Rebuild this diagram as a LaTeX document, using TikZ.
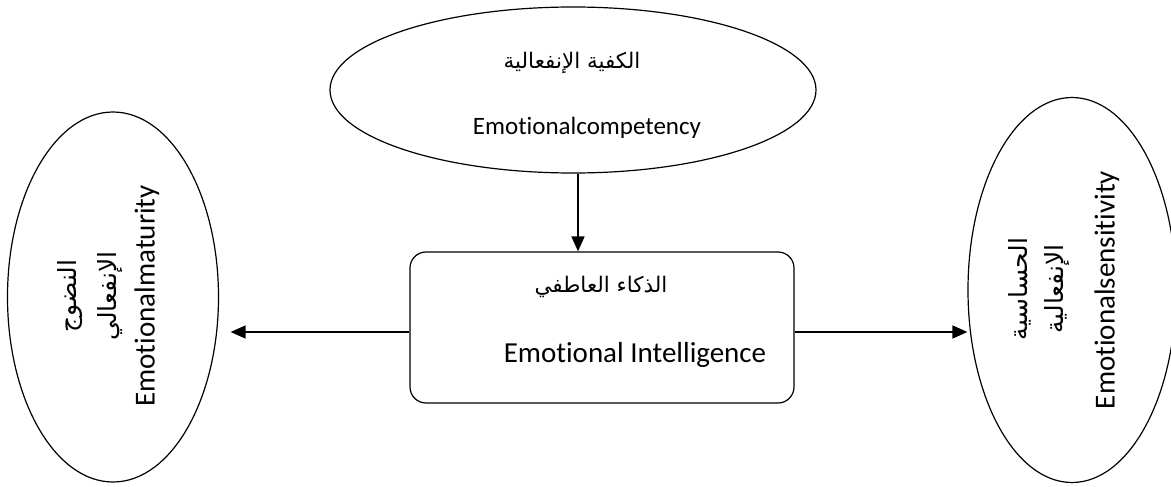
\documentclass[tikz,border=0pt]{standalone}
\usepackage{fontspec}
\setmainfont{Carlito}[Ligatures={NoCommon}]
\newfontfamily\arabicfont[Script=Arabic]{DejaVu Sans}
\TeXXeTstate=1
\usetikzlibrary{shapes.geometric,arrows.meta,positioning}
\newcommand{\rtl}[1]{\beginR #1\endR}
\tikzset{
    % Base node style
    basenode/.style={
        draw=black,
        line width=1.2pt,
        inner sep=0pt
    },
    % Oval for the three components
    ovalnode/.style={
        basenode,
        ellipse
    },
    % Central box
    centrenode/.style={
        basenode,
        rounded corners=16pt,
        minimum width=384pt,
        minimum height=151pt
    },
    % English label
    entext/.style={
        inner sep=0pt,
        font=\fontsize{29}{30}\selectfont
    },
    % Arabic label
    artext/.style={
        inner sep=0pt,
        font=\arabicfont\fontsize{21.5}{24}\selectfont
    },
    % Arabic label inside the side ovals
    sidear/.style={
        artext,
        rotate=90,
        font=\arabicfont\fontsize{25}{30}\selectfont
    },
    % Arrow style
    myarrow/.style={
        -{Triangle[length=15pt,width=13pt]},
        line width=1.6pt,
        draw=black
    }
}
\begin{document}
\begin{tikzpicture}[x=1pt, y=-1pt]
        \useasboundingbox (0,0) rectangle (1171,487);

        % Shapes
        \node[centrenode] (ei) at (602,327.5) {};
        \node[ovalnode, minimum width=486pt, minimum height=166pt] (comp) at (573,90) {};
        \node[ovalnode, minimum width=211pt, minimum height=370pt] (mat) at (113,297) {};
        \node[ovalnode, minimum width=208pt, minimum height=385pt] (sens) at (1072,290) {};

        % Labels
        \node[artext] (eiar) at (601,287) {\rtl{الذكاء العاطفي}};
        \node[entext] (eien) at (635,355) {Emotional Intelligence};
        \node[artext] (compar) at (572,63) {\rtl{الكفية الإنفعالية}};
        \node[entext, font=\fontsize{25}{30}\selectfont] (compen) at (587,128) {Emotionalcompetency};
        \node[sidear] (matar1) at (70,296) {\rtl{النضوج}};
        \node[sidear] (matar2) at (110,296) {\rtl{الإنفعالي}};
        \node[entext, rotate=90] (maten) at (147,296) {Emotionalmaturity};
        \node[sidear] (sensar1) at (1020,289) {\rtl{الحساسية}};
        \node[sidear] (sensar2) at (1057,289) {\rtl{الإنفعالية}};
        \node[entext, rotate=90] (sensen) at (1107,290) {Emotionalsensitivity};

        % Arrows
        \draw[myarrow] ([xshift=5pt]comp.south) -- ([xshift=5pt]comp.south |- ei.north);
        \draw[myarrow, shorten >=11.5pt] ([yshift=-4.5pt]ei.west) -- ([yshift=-4.5pt]ei.west -| mat.east);
        \draw[myarrow] ([yshift=-4.5pt]ei.east) -- ([yshift=-4.5pt]ei.east -| sens.west);
\end{tikzpicture}
\end{document}
